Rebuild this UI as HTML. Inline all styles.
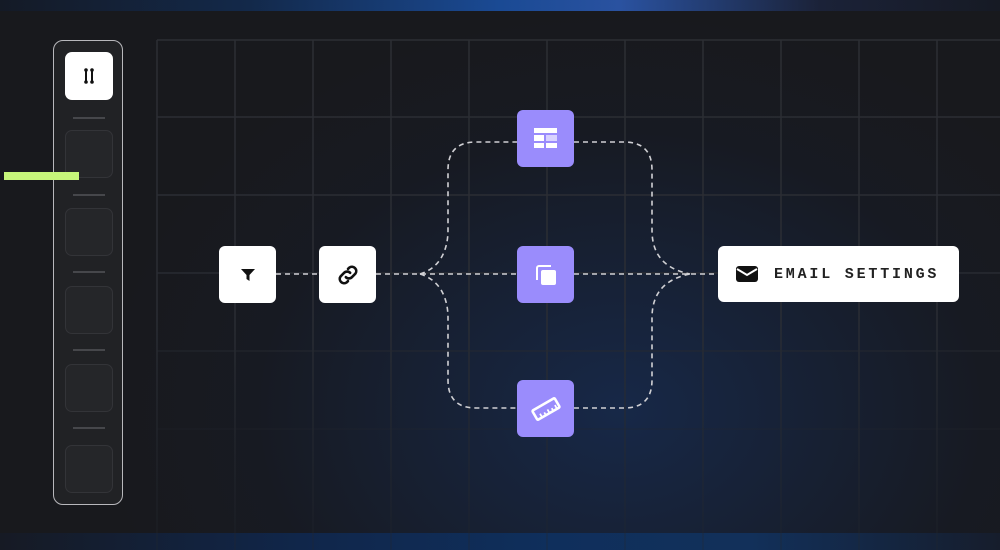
<!DOCTYPE html>
<html><head><meta charset="utf-8"><style>
html,body{margin:0;padding:0;}
body{width:1000px;height:550px;overflow:hidden;position:relative;background:#18191d;font-family:"Liberation Mono",monospace;}
.top{position:absolute;left:0;top:0;width:1000px;height:11px;background:linear-gradient(90deg,#141a26 0%,#13294a 25%,#1a4a94 50%,#2a52a0 62%,#1b2238 82%,#161a24 100%);}
.bot{position:absolute;left:0;top:533px;width:1000px;height:17px;background:linear-gradient(90deg,#161a24 0%,#10264a 30%,#0f2f5c 55%,#12305a 75%,#161d2c 100%);}
.glow{position:absolute;left:0;top:11px;width:1000px;height:522px;background:radial-gradient(ellipse 520px 400px at 620px 400px,rgba(22,50,100,0.6),rgba(20,30,55,0.2) 70%,rgba(0,0,0,0) 100%);}
.side{position:absolute;left:53px;top:40px;width:68px;height:463px;border:1.5px solid #b8b8bc;border-radius:10px;background:#212225;}
.btn{position:absolute;left:11px;width:48px;height:48px;border-radius:7px;box-sizing:border-box;}
.w{background:#fff;}
.e{border:1.5px solid #333438;background:#252629;}
.dv{position:absolute;left:19px;width:32px;height:2px;background:#46474b;}
.green{position:absolute;left:4px;top:172px;width:75px;height:8px;background:#c6f57a;z-index:5;}
.node{position:absolute;width:57px;height:57px;border-radius:6px;display:flex;align-items:center;justify-content:center;}
.wn{background:#fff;}
.pn{background:#9a8cfc;}
.email{position:absolute;left:718px;top:246px;width:241px;height:56px;background:#fff;border-radius:6px;display:flex;align-items:center;}
.email span{font-size:15px;font-weight:bold;letter-spacing:2.8px;color:#222;margin-left:16px;}
</style></head><body>
<div class="glow"></div>
<div class="top"></div>
<div class="bot"></div>
<svg width="1000" height="550" style="position:absolute;left:0;top:0">
<defs><linearGradient id="fg" x1="0" y1="0" x2="0" y2="1"><stop offset="0" stop-color="#2c2e33"/><stop offset="0.55" stop-color="#2a2d34"/><stop offset="1" stop-color="#22262d" stop-opacity="0.3"/></linearGradient></defs>
<g stroke="url(#fg)" stroke-width="1.5" fill="none">
<path d="M157 40V550M235 40V550M313 40V550M391 40V550M469 40V550M547 40V550M625 40V550M703 40V550M781 40V550M859 40V550M937 40V550"/>
<path d="M157 40H1000M157 117H1000M157 195H1000M157 273H1000M157 351H1000M157 429H1000"/>
</g>
<g stroke="#d0d0d4" stroke-width="1.6" fill="none" stroke-dasharray="5 4">
<path d="M276 274H319"/>
<path d="M376 274H517"/>
<path d="M574 274H718"/>
<path d="M420 274C440 268 448 250 448 230V170Q448 142 476 142H517"/>
<path d="M420 274C440 280 448 298 448 318V380Q448 408 476 408H517"/>
<path d="M574 142H624Q652 142 652 170V230C652 250 660 268 690 274"/>
<path d="M574 408H624Q652 408 652 380V318C652 298 660 280 690 274"/>
</g>
</svg>
<div class="side">
<div class="btn w" style="top:11px;display:flex;align-items:center;justify-content:center">
<svg width="14" height="18" viewBox="0 0 14 18"><g stroke="#111" stroke-width="2" stroke-linecap="round"><path d="M4 3V15M10 3V15"/></g><circle cx="4" cy="3" r="1.8" fill="#111"/><circle cx="10" cy="15" r="1.8" fill="#111"/><circle cx="4" cy="15" r="1.8" fill="#111"/><circle cx="10" cy="3" r="1.8" fill="#111"/></svg>
</div>
<div class="dv" style="top:76px"></div>
<div class="btn e" style="top:89px"></div>
<div class="dv" style="top:153px"></div>
<div class="btn e" style="top:167px"></div>
<div class="dv" style="top:230px"></div>
<div class="btn e" style="top:245px"></div>
<div class="dv" style="top:308px"></div>
<div class="btn e" style="top:323px"></div>
<div class="dv" style="top:386px"></div>
<div class="btn e" style="top:404px"></div>
</div>
<div class="green"></div>
<div class="node wn" style="left:219px;top:246px"><svg width="16" height="14" viewBox="0 0 16 14"><path d="M1 1H15L9.5 7V13L6.5 11V7Z" fill="#111"/></svg></div>
<div class="node wn" style="left:319px;top:246px"><svg width="26" height="26" viewBox="0 0 24 24" fill="none" stroke="#111" stroke-width="2.4" stroke-linecap="round"><path d="M10 14a4 4 0 0 0 5.6 0l3.2-3.2a4 4 0 0 0-5.6-5.6l-1.2 1.2"/><path d="M14 10a4 4 0 0 0-5.6 0l-3.2 3.2a4 4 0 0 0 5.6 5.6l1.2-1.2"/></svg></div>
<div class="node pn" style="left:517px;top:110px"><svg width="23" height="21" viewBox="0 0 23 21"><rect x="0" y="0" width="23" height="5" fill="#fff"/><rect x="0" y="7" width="10" height="6" fill="#fff"/><rect x="12" y="7" width="11" height="6" fill="#d8d2ff"/><rect x="0" y="15" width="10" height="5" fill="#fff"/><rect x="12" y="15" width="11" height="5" fill="#fff"/></svg></div>
<div class="node pn" style="left:517px;top:246px"><svg width="22" height="22" viewBox="0 0 22 22"><path d="M2 16V4a2 2 0 0 1 2-2h12" stroke="#fff" stroke-width="2" fill="none"/><rect x="6" y="6" width="15" height="15" rx="2" fill="#fff"/></svg></div>
<div class="node pn" style="left:517px;top:380px"><svg width="30" height="30" viewBox="0 0 28 28"><g transform="rotate(-30 14 14)"><rect x="2" y="9" width="24" height="10" rx="1" fill="none" stroke="#fff" stroke-width="2.4"/><path d="M7 19V15M11 19V16M15 19V15M19 19V16M23 19V15" stroke="#fff" stroke-width="1.6"/></g></svg></div>
<div class="email"><svg width="22" height="18" viewBox="0 0 22 18" style="margin-left:18px"><rect x="0" y="1" width="22" height="16" rx="3" fill="#111"/><path d="M1 4L11 10L21 4" stroke="#fff" stroke-width="2" fill="none"/></svg><span>EMAIL SETTINGS</span></div>
</body></html>
